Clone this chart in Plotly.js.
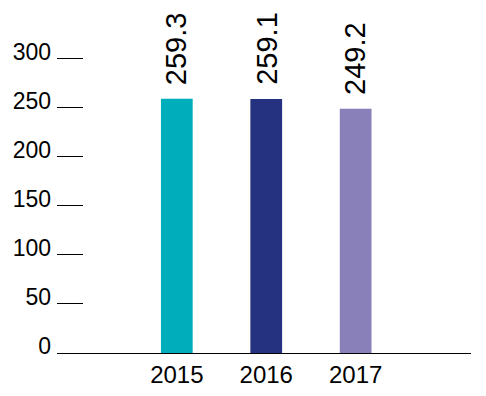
<!DOCTYPE html>
<html>
<head>
<meta charset="utf-8">
<script src="https://cdn.plot.ly/plotly-3.0.1.min.js"></script>
<style>html,body{margin:0;padding:0;background:#fff;}#chart{width:486px;height:396px;}</style>
</head>
<body>
<div id="chart"></div>
<script>
const years = ['2015', '2016', '2017'];
const values = [259.3, 259.1, 249.2];
const labels = ['259.3', '259.1', '249.2'];
const colors = ['#00aebb', '#24327f', '#8a80b9'];
const yTicks = [0, 50, 100, 150, 200, 250, 300];

const FONT = 'Liberation Sans, Arial, Helvetica, sans-serif';

const trace = {
  type: 'bar',
  x: years,
  y: values,
  marker: {color: colors, line: {width: 0}},
  width: 0.355,
  hoverinfo: 'skip'
};

const annotations = years.map((yr, i) => ({
  x: i, y: values[i], xref: 'x', yref: 'y',
  text: labels[i], showarrow: false, textangle: -90,
  xanchor: 'center', yanchor: 'bottom', yshift: 12,
  font: {family: FONT, size: 29, color: '#000'}
}));

const layout = {
  width: 486, height: 396,
  margin: {l: 57, r: 15, t: 57.3, b: 42.7, pad: 0},
  paper_bgcolor: '#fff', plot_bgcolor: '#fff',
  showlegend: false,
  xaxis: {
    type: 'category',
    range: [-1.34, 3.29],
    showline: true, linecolor: '#000', linewidth: 1.3,
    ticks: '', showgrid: false, zeroline: false,
    tickfont: {family: FONT, size: 24, color: '#000'},
    ticklabelstandoff: 0
  },
  yaxis: {
    range: [0, 302],
    tickmode: 'array', tickvals: yTicks, ticktext: yTicks.map(String),
    ticks: 'inside', ticklen: 26, tickwidth: 1.2, tickcolor: '#000',
    showline: false, showgrid: false, zeroline: false,
    tickfont: {family: FONT, size: 23, color: '#000'},
    ticklabelshift: -7, ticklabelstandoff: 5
  },
  annotations: annotations
};

Plotly.newPlot('chart', [trace], layout, {displayModeBar: false});
</script>
</body>
</html>
